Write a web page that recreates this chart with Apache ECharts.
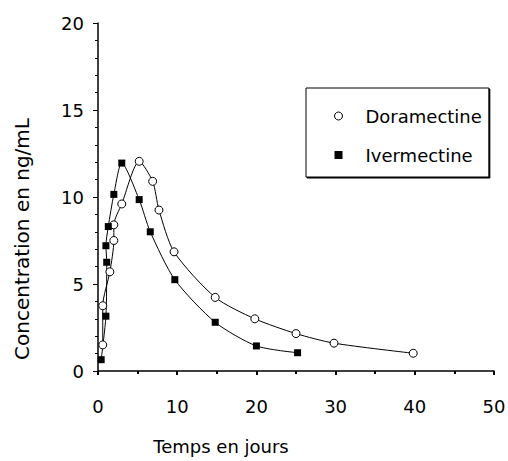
<!DOCTYPE html>
<html>
<head>
<meta charset="utf-8">
<script src="https://cdn.jsdelivr.net/npm/echarts@6/dist/echarts.min.js"></script>
<style>
html,body{margin:0;padding:0;background:#fff;}
#chart{width:508px;height:461px;}
</style>
</head>
<body>
<div id="chart"></div>
<script>
// Data
const seriesNames = ['Doramectine', 'Ivermectine'];
const doraDays = [0.6, 0.6, 1.5, 2.0, 2.0, 3.0, 5.2, 6.9, 7.7, 9.6, 14.8, 19.8, 25.0, 29.8, 39.8];
const doraConc = [1.5, 3.75, 5.7, 7.5, 8.4, 9.6, 12.05, 10.9, 9.25, 6.85, 4.23, 3.0, 2.15, 1.6, 1.02];
const iverDays = [0.4, 1.0, 1.1, 1.0, 1.3, 2.0, 3.0, 5.2, 6.6, 9.7, 14.8, 20.0, 25.2];
const iverConc = [0.65, 3.15, 6.25, 7.2, 8.3, 10.15, 11.95, 9.85, 8.0, 5.25, 2.8, 1.44, 1.05];
const xTitle = 'Temps en jours';
const yTitle = 'Concentration en ng/mL';

const pairs = (xs, ys) => xs.map((x, i) => [x, ys[i]]);
const FONT = "'DejaVu Sans', 'Liberation Sans', sans-serif";

const chart = echarts.init(document.getElementById('chart'), null, {renderer: 'svg'});
chart.setOption({
  animation: false,
  backgroundColor: '#fff',
  grid: {left: 98, top: 23, right: 14, bottom: 90, outerBoundsMode: 'none'},
  legend: {
    orient: 'vertical',
    left: 306, top: 88,
    padding: [18, 7, 12, 28],
    itemGap: 19,
    itemWidth: 8, itemHeight: 8,
    borderColor: '#000', borderWidth: 1,
    backgroundColor: '#fff',
    shadowColor: '#000', shadowOffsetX: 1, shadowOffsetY: 1, shadowBlur: 0,
    textStyle: {fontFamily: FONT, fontSize: 18, color: '#000', lineHeight: 20, padding: [0, 0, 0, 18]},
    data: [
      {name: seriesNames[0], icon: 'circle', itemStyle: {color: '#fff', borderColor: '#000', borderWidth: 1}},
      {name: seriesNames[1], icon: 'rect', itemStyle: {color: '#000'}}
    ]
  },
  xAxis: {
    type: 'value', min: 0, max: 50, interval: 10,
    name: xTitle, nameLocation: 'middle', nameGap: 66,
    nameTextStyle: {fontFamily: FONT, fontSize: 18, color: '#000', padding: [0, 150, 0, 0]},
    axisLine: {show: true, onZero: false, lineStyle: {color: '#000', width: 1.5}},
    axisTick: {show: true, length: 4, lineStyle: {color: '#000', width: 2}},
    minorTick: {show: true, splitNumber: 2, length: 3, lineStyle: {color: '#000', width: 2}},
    axisLabel: {fontFamily: FONT, fontSize: 18, color: '#000', margin: 26},
    splitLine: {show: false}
  },
  yAxis: {
    type: 'value', min: 0, max: 20, interval: 5,
    name: yTitle, nameLocation: 'middle', nameGap: 66,
    nameTextStyle: {fontFamily: FONT, fontSize: 20, color: '#000', padding: [0, 84, 0, 0]},
    axisLine: {show: true, lineStyle: {color: '#000', width: 1.5}},
    axisTick: {show: true, length: 5, lineStyle: {color: '#000', width: 1}},
    minorTick: {show: true, splitNumber: 5, length: 3, lineStyle: {color: '#000', width: 1}},
    axisLabel: {fontFamily: FONT, fontSize: 18, color: '#000', margin: 14},
    splitLine: {show: false}
  },
  series: [
    {
      name: seriesNames[0], type: 'line',
      data: pairs(doraDays, doraConc),
      symbol: 'circle', symbolSize: 8, showAllSymbol: true,
      smooth: 0.25,
      lineStyle: {color: '#000', width: 1},
      itemStyle: {color: '#fff', borderColor: '#000', borderWidth: 1}
    },
    {
      name: seriesNames[1], type: 'line',
      data: pairs(iverDays, iverConc),
      symbol: 'rect', symbolSize: 7, showAllSymbol: true,
      smooth: 0.25,
      lineStyle: {color: '#000', width: 1},
      itemStyle: {color: '#000'}
    }
  ]
});
</script>
</body>
</html>
